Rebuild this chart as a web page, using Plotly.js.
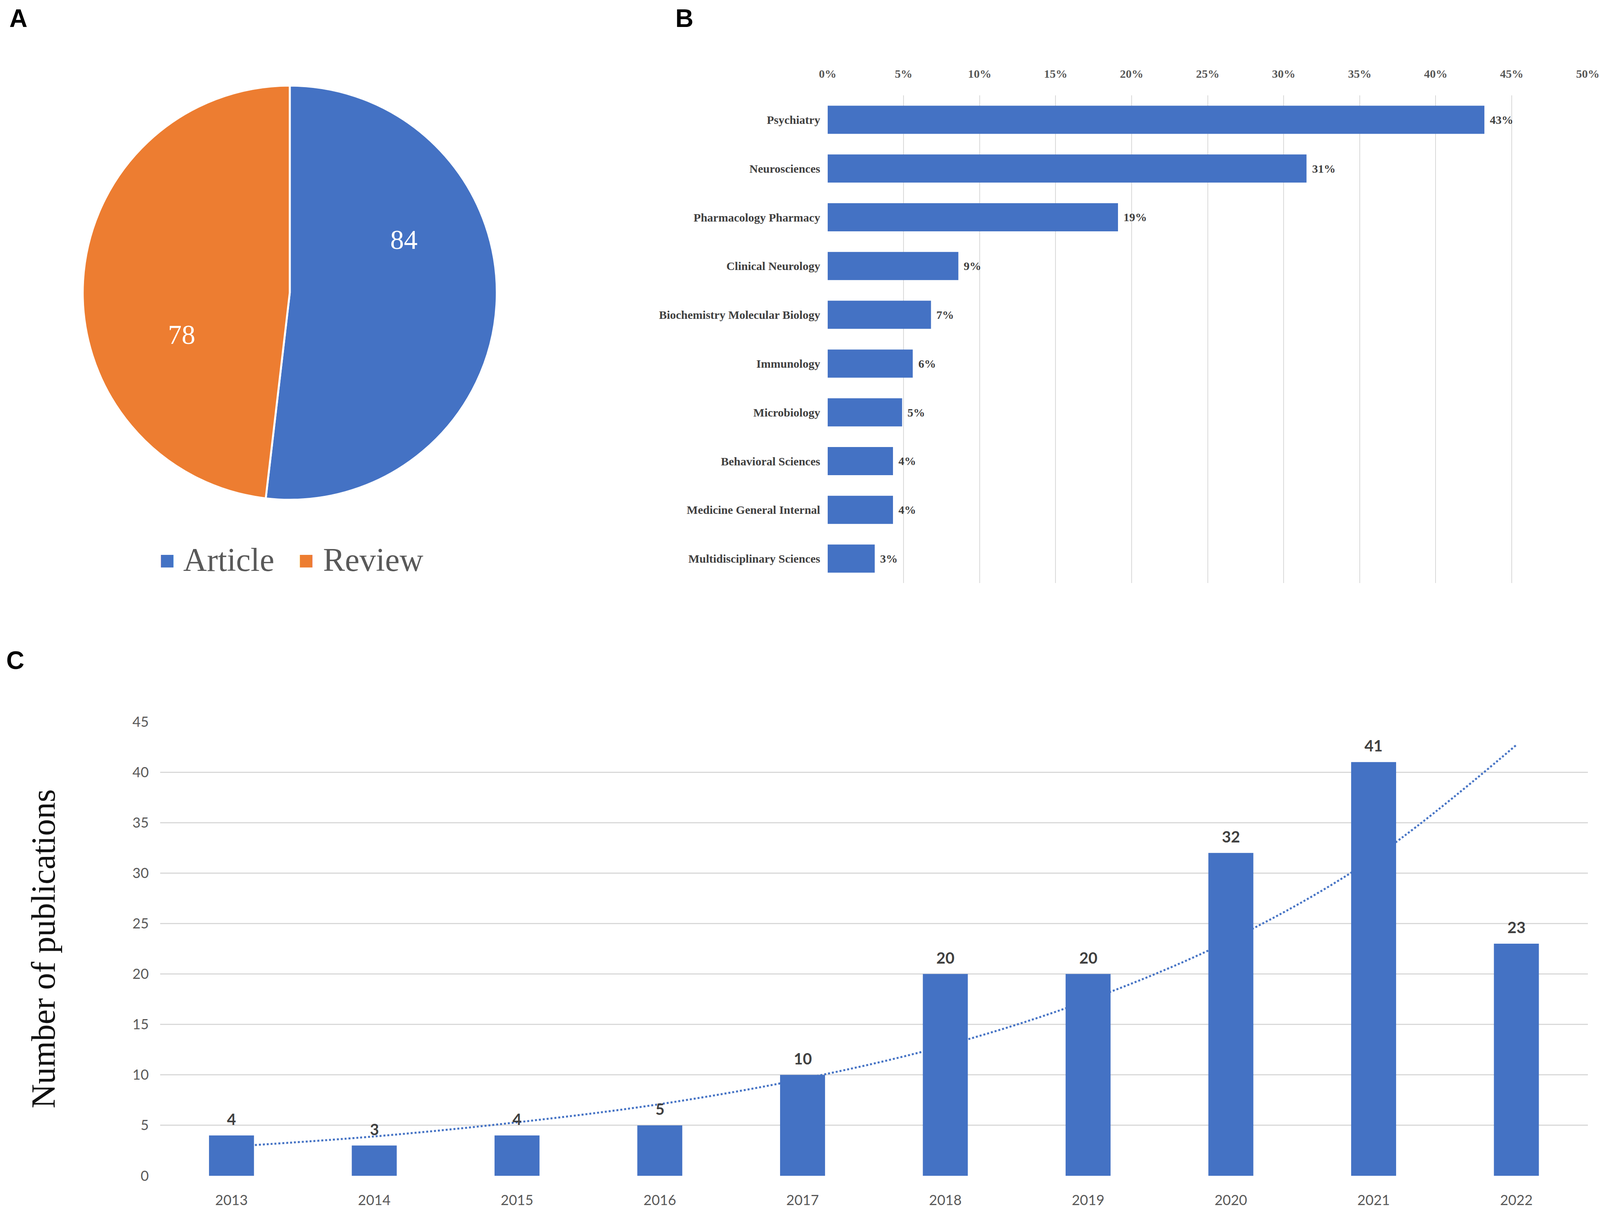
<!DOCTYPE html>
<html><head><meta charset="utf-8">
<script src="https://cdn.plot.ly/plotly-3.0.1.min.js"></script>
<style>html,body{margin:0;padding:0;background:#fff;overflow:hidden}</style>
</head><body><div id="chart"></div>
<script>
// ---- Panel A data ----
const docTypes = ['Article', 'Review'];
const docCounts = [84, 78];
const docColors = ['#4472C4', '#ED7D31'];

// ---- Panel B data ----
const categories = ['Psychiatry', 'Neurosciences', 'Pharmacology Pharmacy', 'Clinical Neurology',
  'Biochemistry Molecular Biology', 'Immunology', 'Microbiology', 'Behavioral Sciences',
  'Medicine General Internal', 'Multidisciplinary Sciences'];
const categoryShares = [0.432, 0.315, 0.191, 0.086, 0.068, 0.056, 0.049, 0.043, 0.043, 0.031];
const categoryLabels = ['43%', '31%', '19%', '9%', '7%', '6%', '5%', '4%', '4%', '3%'];
const shareTicks = [0, 0.05, 0.10, 0.15, 0.20, 0.25, 0.30, 0.35, 0.40, 0.45, 0.50];

// ---- Panel C data ----
const years = ['2013', '2014', '2015', '2016', '2017', '2018', '2019', '2020', '2021', '2022'];
const publications = [4, 3, 4, 5, 10, 20, 20, 32, 41, 23];
const trendValues = [2.9, 3.9, 5.3, 7.1, 9.6, 12.9, 17.4, 23.4, 31.5, 42.7];

// reference frame (positions are fractions of the reference picture)
const RW = 4317, RH = 3094;
const W = window.innerWidth || RW, H = window.innerHeight || RH;
document.getElementById('chart').style.width = W + 'px';
document.getElementById('chart').style.height = H + 'px';
const px = x => x / RW;
const py = y => 1 - y / RH;

const BLUE = '#4472C4';
const GRID = '#d9d9d9';

const traces = [
  {
    type: 'pie',
    labels: docTypes,
    values: docCounts,
    marker: { colors: docColors, line: { color: '#ffffff', width: 5 } },
    sort: false,
    direction: 'clockwise',
    rotation: 0,
    textinfo: 'none',
    domain: { x: [0.0517, 0.3105], y: [py(1279), py(219)] },
    showlegend: false,
    hoverinfo: 'label+value'
  },
  {
    type: 'bar',
    orientation: 'h',
    x: categoryShares,
    y: categories,
    marker: { color: BLUE },
    width: 0.577,
    xaxis: 'x', yaxis: 'y',
    showlegend: false
  },
  {
    type: 'scatter',
    mode: 'lines',
    x: years,
    y: trendValues,
    line: { color: BLUE, width: 5, dash: 'dot', shape: 'spline' },
    xaxis: 'x2', yaxis: 'y2',
    showlegend: false,
    hoverinfo: 'skip'
  },
  {
    type: 'bar',
    x: years,
    y: publications,
    marker: { color: BLUE },
    width: 0.315,
    xaxis: 'x3', yaxis: 'y3',
    showlegend: false
  }
];

const tickFontB = { family: 'Liberation Serif', size: 30, color: '#595959', weight: 'bold' };
const catFontB = { family: 'Liberation Serif', size: 30, color: '#404040', weight: 'bold' };
const valFontB = { family: 'Liberation Serif', size: 30, color: '#404040', weight: 'bold' };
const tickFontC = { family: 'Lato', size: 36, color: '#595959' };
const valFontC = { family: 'Lato', size: 40, color: '#404040', weight: 'bold' };
const letterFont = { family: 'Liberation Sans', size: 64, color: '#000', weight: 'bold' };

const annotations = [
  { text: 'A', x: px(50), y: py(47), xref: 'paper', yref: 'paper', showarrow: false, xanchor: 'center', yanchor: 'middle', font: letterFont },
  { text: 'B', x: px(1847), y: py(47), xref: 'paper', yref: 'paper', showarrow: false, xanchor: 'center', yanchor: 'middle', font: letterFont },
  { text: 'C', x: px(41), y: py(1690), xref: 'paper', yref: 'paper', showarrow: false, xanchor: 'center', yanchor: 'middle', font: letterFont },
  // pie value labels
  { text: String(docCounts[0]), x: px(1090), y: py(614), xref: 'paper', yref: 'paper', showarrow: false, xanchor: 'center', yanchor: 'middle',
    font: { family: 'Liberation Serif', size: 70, color: '#ffffff' } },
  { text: String(docCounts[1]), x: px(490), y: py(856), xref: 'paper', yref: 'paper', showarrow: false, xanchor: 'center', yanchor: 'middle',
    font: { family: 'Liberation Serif', size: 70, color: '#ffffff' } },
  // pie legend
  { text: '■', x: px(451), y: py(1432), xref: 'paper', yref: 'paper', showarrow: false, xanchor: 'center', yanchor: 'middle',
    font: { family: 'DejaVu Sans', size: 42, color: docColors[0] } },
  { text: docTypes[0], x: px(492), y: py(1432), xref: 'paper', yref: 'paper', showarrow: false, xanchor: 'left', yanchor: 'middle',
    font: { family: 'Liberation Serif', size: 84, color: '#595959' } },
  { text: '■', x: px(826), y: py(1432), xref: 'paper', yref: 'paper', showarrow: false, xanchor: 'center', yanchor: 'middle',
    font: { family: 'DejaVu Sans', size: 42, color: docColors[1] } },
  { text: docTypes[1], x: px(870), y: py(1432), xref: 'paper', yref: 'paper', showarrow: false, xanchor: 'left', yanchor: 'middle',
    font: { family: 'Liberation Serif', size: 84, color: '#595959' } }
];

// value labels of panel B, placed on the data axes
categories.forEach((c, i) => annotations.push({
  text: categoryLabels[i], x: categoryShares[i], y: c, xref: 'x', yref: 'y',
  showarrow: false, xanchor: 'left', yanchor: 'middle', xshift: 12, font: valFontB
}));
// value labels of panel C (category index on the category axis)
years.forEach((yr, i) => annotations.push({
  text: String(publications[i]), x: i, y: publications[i], xref: 'x3', yref: 'y3',
  showarrow: false, xanchor: 'center', yanchor: 'bottom', yshift: 16, font: valFontC
}));

const layout = {
  width: W, height: H,
  margin: { l: 0, r: 0, t: 0, b: 0 },
  paper_bgcolor: '#ffffff',
  plot_bgcolor: 'rgba(0,0,0,0)',
  showlegend: false,
  xaxis: {
    domain: [px(2233), px(4284)], anchor: 'y', side: 'top',
    range: [0, 0.5], tickvals: shareTicks, tickformat: '.0%',
    showgrid: true, gridcolor: GRID, gridwidth: 2,
    zeroline: false, showline: false, ticks: '',
    tickfont: tickFontB, ticklabelstandoff: 38
  },
  yaxis: {
    domain: [py(1492), py(244)], anchor: 'x', type: 'category',
    autorange: 'reversed', showgrid: false, zeroline: false, showline: false,
    ticks: '', tickfont: catFontB, ticklabelstandoff: 18
  },
  xaxis2: {
    domain: [px(432), px(4284)], anchor: 'y2', type: 'category',
    range: [-0.5, 9.5], showgrid: false, zeroline: false, showline: false,
    ticks: '', tickfont: tickFontC, ticklabelstandoff: 38
  },
  yaxis2: {
    domain: [py(3009), py(1847)], anchor: 'x2',
    range: [0, 45], dtick: 5, showgrid: true, gridcolor: GRID, gridwidth: 3,
    zeroline: false, showline: false, ticks: '',
    tickfont: tickFontC, ticklabelstandoff: 28,
    title: { text: 'Number of publications', font: { family: 'Liberation Serif', size: 86, color: '#111111' }, standoff: 170 }
  },
  xaxis3: {
    domain: [px(432), px(4284)], anchor: 'y3', overlaying: 'x2', type: 'category',
    range: [-0.5, 9.5], showgrid: false, showticklabels: false, zeroline: false, showline: false, ticks: ''
  },
  yaxis3: {
    domain: [py(3009), py(1847)], anchor: 'x3', overlaying: 'y2',
    range: [0, 45], showgrid: false, showticklabels: false, zeroline: false, showline: false, ticks: ''
  },
  annotations: annotations
};

Plotly.newPlot('chart', traces, layout, { staticPlot: true, displayModeBar: false });
</script>
</body></html>
